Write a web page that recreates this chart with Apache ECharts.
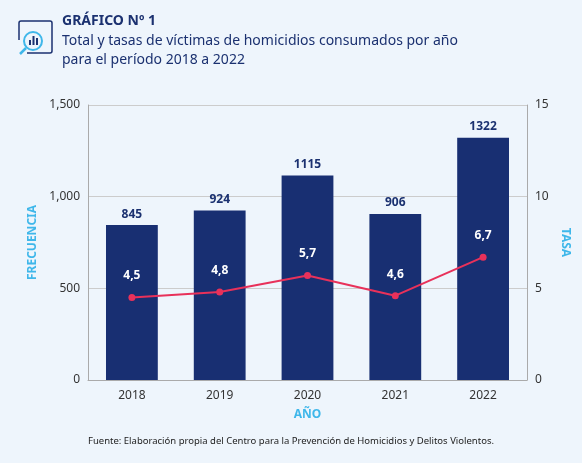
<!DOCTYPE html>
<html><head><meta charset="utf-8">
<script src="https://cdn.jsdelivr.net/npm/echarts@6/dist/echarts.min.js"></script>
<style>html,body{margin:0;padding:0;background:#eef5fc}#c{width:582px;height:463px}</style>
</head><body><div id="c"></div>
<script>
const categories=['2018','2019','2020','2021','2022'];
const frecuencia=[845,924,1115,906,1322];
const tasa=[4.5,4.8,5.7,4.6,6.7];
const leftTicks=[0,500,1000,1500];
const chart=echarts.init(document.getElementById('c'));
const F='"Noto Sans", "Open Sans", sans-serif';
chart.setOption({
  backgroundColor:'#eef5fc',
  textStyle:{fontFamily:F},
  graphic:[
    {type:'rect',shape:{x:19,y:21,width:33,height:32,r:2},style:{fill:'none',stroke:'#1b3170',lineWidth:1.5}},
    {type:'rect',shape:{x:15,y:40,width:12,height:16},style:{fill:'#eef5fc'}},
    {type:'circle',shape:{cx:33,cy:41,r:9},style:{fill:'#eef5fc',stroke:'#3fb7ea',lineWidth:2}},
    {type:'line',shape:{x1:26,y1:48,x2:20,y2:54},style:{stroke:'#3fb7ea',lineWidth:2.5}},
    {type:'rect',shape:{x:29,y:40,width:2,height:5},style:{fill:'#1b3170'}},
    {type:'rect',shape:{x:32.5,y:36,width:2,height:9},style:{fill:'#1b3170'}},
    {type:'rect',shape:{x:36,y:38,width:2,height:7},style:{fill:'#1b3170'}},
    {type:'text',left:62,top:14,style:{text:'GRÁFICO Nº 1',font:'bold 14px '+F,fill:'#1b3170'}},
    {type:'text',left:62,top:32,style:{text:'Total y tasas de víctimas de homicidios consumados por año\npara el período 2018 a 2022',font:'14px '+F,fill:'#1b3170',lineHeight:19}},
    {type:'text',left:'center',top:436,style:{text:'Fuente: Elaboración propia del Centro para la Prevención de Homicidios y Delitos Violentos.',font:'9.5px '+F,fill:'#222'}}
  ],
  grid:{left:88,right:55,top:105,bottom:83},
  xAxis:{type:'category',data:categories,axisTick:{show:false},axisLine:{lineStyle:{color:'#aaa'}},
    axisLabel:{color:'#333',fontSize:12,margin:10},
    name:'AÑO',nameLocation:'middle',nameGap:29,nameTextStyle:{color:'#3fb7ea',fontWeight:'bold',fontSize:12}},
  yAxis:[
    {type:'value',min:0,max:1500,interval:500,splitLine:{lineStyle:{color:'#ccc'}},
     axisLine:{show:true,lineStyle:{color:'#aaa'}},axisLabel:{color:'#333',fontSize:12},
     name:'FRECUENCIA',nameLocation:'middle',nameGap:48,nameTextStyle:{color:'#3fb7ea',fontWeight:'bold',fontSize:12}},
    {type:'value',min:0,max:15,interval:5,splitLine:{show:false},
     axisLine:{show:true,lineStyle:{color:'#aaa'}},axisLabel:{color:'#333',fontSize:12},
     name:'TASA',nameLocation:'middle',nameGap:30,nameRotate:-90,nameTextStyle:{color:'#3fb7ea',fontWeight:'bold',fontSize:12}}
  ],
  series:[
    {type:'bar',data:frecuencia,barWidth:'59%',itemStyle:{color:'#182f72'},
     label:{show:true,position:'top',color:'#1b3170',fontWeight:'bold',fontSize:12}},
    {type:'line',yAxisIndex:1,data:tasa,symbol:'circle',symbolSize:7,color:'#e8315a',lineStyle:{width:2,color:'#e8315a'},
     label:{show:true,position:'top',distance:12,color:'#fff',fontWeight:'bold',fontSize:12,
       formatter:p=>String(p.value).replace('.',',')}}
  ]
});
</script></body></html>
